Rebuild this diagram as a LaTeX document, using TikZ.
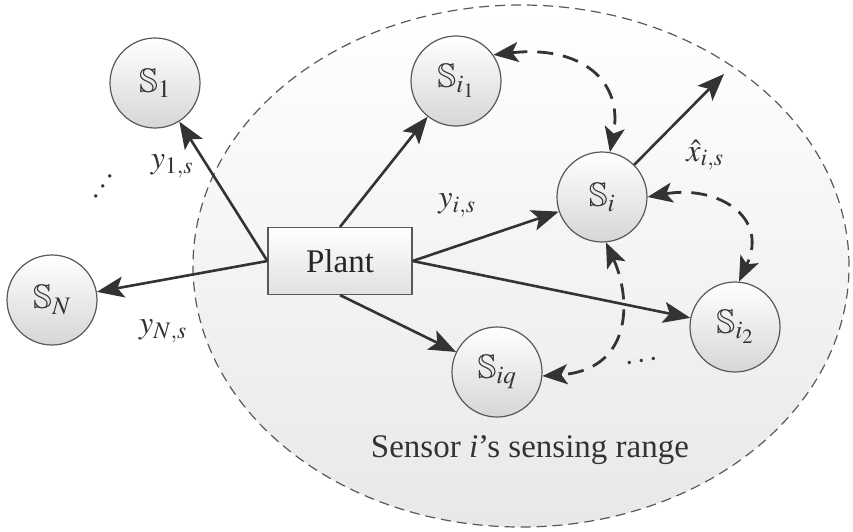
\documentclass[tikz,border=0pt]{standalone}
\usepackage{amssymb}
\usepackage{mathptmx}
\usepackage[no-math]{fontspec}
\setmainfont{Liberation Serif}
\usetikzlibrary{arrows.meta,calc}
\begin{document}
\begin{tikzpicture}[x=1pt,y=-1pt,
  sensor/.style={circle,draw=black!65,line width=1.2pt,minimum size=90pt,inner sep=0pt,
    top color=white,bottom color=black!16,text=black!80,font=\fontsize{34}{40}\selectfont},
  plantbox/.style={rectangle,draw=black!65,line width=1.2pt,minimum width=144pt,minimum height=67pt,
    top color=white,bottom color=black!12,text=black!85,font=\fontsize{33}{40}\selectfont},
  conn/.style={draw=black!80,line width=2.6pt,-{Stealth[length=27pt,width=21pt,inset=6pt]}},
  dconn/.style={draw=black!80,line width=2.8pt,dash pattern=on 16pt off 10pt,
    {Stealth[length=25pt,width=20pt,inset=6pt]}-{Stealth[length=25pt,width=20pt,inset=6pt]}},
  lbl/.style={text=black!80,font=\fontsize{32}{38}\selectfont},
]
\useasboundingbox (0,0) rectangle (853,531);
% sensing range
\draw[draw=black!65,line width=1.2pt,dash pattern=on 10pt off 6pt,top color=white,bottom color=black!9]
  (521,266) ellipse [x radius=328pt,y radius=261pt];
\node[lbl,font=\fontsize{33}{40}\selectfont] (range) at (530,450) {Sensor \textit{i}'s sensing range};

% nodes
\node[plantbox] (P) at (340,261) {Plant};
\node[sensor] (S1) at (155,83) {$\mathbb{S}_1$};
\node[sensor] (SN) at (52,300) {$\mathbb{S}_N$};
\node[sensor] (Si1) at (456,81) {$\mathbb{S}_{i_1}$};
\node[sensor] (Si) at (602,197) {$\mathbb{S}_i$};
\node[sensor] (Si2) at (735,327) {$\mathbb{S}_{i_2}$};
\node[sensor] (Siq) at (497,372) {$\mathbb{S}_{iq}$};
\coordinate (xe) at (724,74);

% solid connectors
\draw[conn] (P.west) -- (S1);
\draw[conn] (P.west) -- (SN);
\draw[conn] (P.north) -- (Si1);
\draw[conn] (P.east) -- (Si);
\draw[conn] (P.east) -- (Si2);
\draw[conn] (P.south) -- (Siq);
\draw[conn] (Si.45) -- (xe);

% dashed exchanges
\draw[dconn] (Si1.35) .. controls (580,45) and (624,80) .. (Si.80);
\draw[dconn] (Si.0) .. controls (715,185) and (770,215) .. (Si2.85);
\draw[dconn] (Si.-85) .. controls (632,300) and (632,370) .. (Siq.-5);

% labels
\node[lbl] (y1) at (172,166) {$y_{1,s}$};
\node[lbl] (yN) at (163,331) {$y_{N,s}$};
\node[lbl] (yi) at (457,205) {$y_{i,s}$};
\node[lbl] (xh) at (705,155) {$\hat{x}_{i,s}$};
\node[lbl,rotate=57,inner sep=0pt] (d1) at (104,187) {$\cdots$};
\node[lbl,rotate=8,inner sep=0pt] (d2) at (642,362) {$\cdots$};
\end{tikzpicture}
\end{document}
